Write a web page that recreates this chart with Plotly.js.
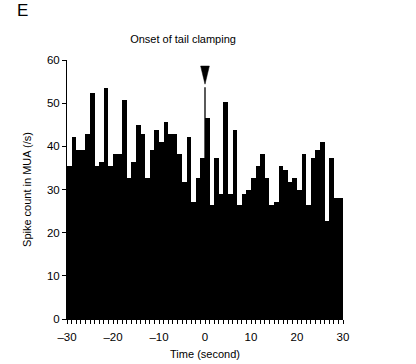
<!DOCTYPE html>
<html>
<head>
<meta charset="utf-8">
<script src="https://cdn.plot.ly/plotly-3.0.1.min.js"></script>
<style>html,body{margin:0;padding:0;background:#fff;}#chart{width:416px;height:364px;}</style>
</head>
<body>
<div id="chart"></div>
<script>
// 1-second bins from -30 to 30 s
var binStarts = [-30,-29,-28,-27,-26,-25,-24,-23,-22,-21,-20,-19,-18,-17,-16,-15,-14,-13,-12,-11,-10,-9,-8,-7,-6,-5,-4,-3,-2,-1,
                 0,1,2,3,4,5,6,7,8,9,10,11,12,13,14,15,16,17,18,19,20,21,22,23,24,25,26,27,28,29];
var spikeCounts = [35.5,42.1,39.2,39.2,42.9,52.3,35.5,36.4,53.5,35.5,38.3,38.3,50.7,32.7,36.4,44.9,42.9,32.7,39.2,43.9,
                   41.1,45.7,42.9,42.9,38.3,31.8,42.1,27.1,32.7,37.4,
                   46.6,26.3,37.4,29.0,50.3,29.0,43.9,26.3,29.0,29.9,32.7,35.5,38.3,32.7,26.3,27.1,35.5,34.6,31.8,32.7,
                   29.9,38.3,26.3,37.4,39.2,41.1,22.6,37.4,28.1,28.1];
var onsetTime = 0;
var onsetPeak = 53.7;     // top of the onset line
var arrowTip = 54.4;      // tip of the onset arrowhead
var xTickVals = [-30,-20,-10,0,10,20,30];
var yTickVals = [0,10,20,30,40,50,60];

var binCenters = binStarts.map(function(s){return s + 0.5;});

// arrowhead geometry derived from the onset time (style constants)
var arrowHalfW = 0.95, arrowLen = 4.2;
var arrowX = [onsetTime - arrowHalfW, onsetTime + arrowHalfW, onsetTime, onsetTime - arrowHalfW];
var arrowY = [arrowTip + arrowLen, arrowTip + arrowLen, arrowTip, arrowTip + arrowLen];

var data = [
  {type:'bar', x: binCenters, y: spikeCounts, width: 1,
   marker:{color:'#000000', line:{width:0}}, hoverinfo:'skip'},
  {type:'scatter', mode:'lines', x: [onsetTime, onsetTime], y: [0, onsetPeak],
   line:{color:'#000000', width:1.3}, hoverinfo:'skip'},
  {type:'scatter', mode:'lines', x: arrowX, y: arrowY, fill:'toself', fillcolor:'#000000',
   line:{color:'#000000', width:0.5}, hoverinfo:'skip'}
];

var fontFam = 'Liberation Sans, Arial, sans-serif';
var layout = {
  width:416, height:364,
  margin:{l:67, r:73, t:60, b:45},
  paper_bgcolor:'#ffffff', plot_bgcolor:'#ffffff',
  showlegend:false,
  bargap:0,
  font:{family:fontFam, color:'#000000', size:11},
  title:{text:'Onset of tail clamping', x:0.44, xanchor:'center', y:0.893, yanchor:'middle',
         font:{family:fontFam, size:11, color:'#000000'}},
  xaxis:{range:[-30,30], tickvals:xTickVals, ticktext:xTickVals.map(function(v){return v<0?'\u2013'+Math.abs(v):String(v);}),
         ticks:'outside', ticklen:4, tickwidth:1, tickcolor:'#000', showline:true, linecolor:'#000', linewidth:1,
         showgrid:false, zeroline:false, ticklabelstandoff:3, tickfont:{family:fontFam, size:11.5, color:'#000'},
         minor:{dtick:1, tick0:0, ticks:'outside', ticklen:4, tickwidth:1, tickcolor:'#000', showgrid:false},
         title:{text:'Time (second)', standoff:8, font:{family:fontFam, size:11, color:'#000'}}},
  yaxis:{range:[0,60], tickvals:yTickVals, ticks:'outside', ticklen:4, tickwidth:1, tickcolor:'#000',
         showline:true, linecolor:'#000', linewidth:1, showgrid:false, zeroline:false,
         tickfont:{family:fontFam, size:11.5, color:'#000'},
         title:{text:'Spike count in MUA (/s)', standoff:13, font:{family:fontFam, size:11, color:'#000'}}},
  annotations:[{text:'E', xref:'paper', yref:'paper', x:-0.19, y:1.19, xanchor:'left', yanchor:'middle',
                showarrow:false, font:{family:fontFam, size:17, color:'#000'}}]
};

Plotly.newPlot('chart', data, layout, {displayModeBar:false, staticPlot:true});
</script>
</body>
</html>
